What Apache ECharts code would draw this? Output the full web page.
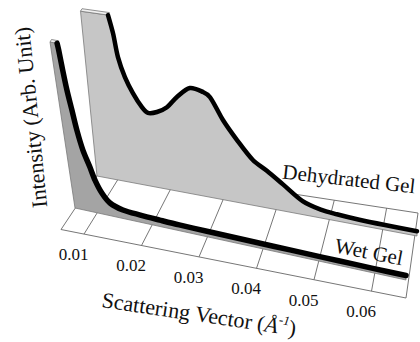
<!DOCTYPE html>
<html>
<head>
<meta charset="utf-8">
<script src="https://cdn.jsdelivr.net/npm/echarts@6/dist/echarts.min.js"></script>
<style>
  html, body { margin: 0; padding: 0; background: #fff; }
  #chart { width: 420px; height: 342px; }
</style>
</head>
<body>
<div id="chart"></div>
<script>
// scattering vector (1/A) and intensity (arb. unit)
const wetQ = [0.0060, 0.0072, 0.0073, 0.00745, 0.00772, 0.00808, 0.00845, 0.00902, 0.00986, 0.01046, 0.0114, 0.01266, 0.01488, 0.0180, 0.0215, 0.0250, 0.0300, 0.0360, 0.0420, 0.0480, 0.0540, 0.0600, 0.0660];
const wetI = [100, 100, 96, 86, 72, 60.5, 48.6, 37, 27.4, 20, 12.9, 7.8, 5.2, 4.4, 3.9, 3.5, 3.3, 3.1, 2.95, 2.8, 2.7, 2.6, 2.6];

const dryQ = [0.0060, 0.0109, 0.01151, 0.01202, 0.01297, 0.01419, 0.01564, 0.01668, 0.01836, 0.02028, 0.02226, 0.02476, 0.02712, 0.02835, 0.03048, 0.03288, 0.03564, 0.03816, 0.04107, 0.04464, 0.0480, 0.0510, 0.0552, 0.0600, 0.0660];
const dryI = [103, 103, 92, 77.5, 65.6, 56.4, 48.5, 45.5, 47, 51, 58.4, 65.2, 64, 61.5, 48.8, 38, 27.5, 22.5, 16, 8.1, 5, 4, 3.2, 2.9, 2.8];

const tickQ = [0.01, 0.02, 0.03, 0.04, 0.05, 0.06];
const tickLabels = ['0.01', '0.02', '0.03', '0.04', '0.05', '0.06'];

const Q_MIN = 0.006, Q_MAX = 0.066, I_MAX = 110;
const SERIF = 'Liberation Serif';

// oblique box: base line of each depth row (L at Q_MIN, R at Q_MAX) and
// the screen vector of one intensity unit at each end
const front = { L: [61, 229.5], R: [406, 298] };
const back  = { L: [104, 165],  R: [418, 213] };
const wetRow = { L: [75, 208], R: [406, 280], VL: [-0.25, -1.66], VR: [0, -1.72] };
const dryRow = { L: [97, 176], R: [417, 236], VL: [-0.16, -1.6],  VR: [0, -1.72] };

function lerp(a, b, t) { return a + (b - a) * t; }

function proj(row, t, h) {
  let x = lerp(row.L[0], row.R[0], t), y = lerp(row.L[1], row.R[1], t);
  if (h) {
    x += h * lerp(row.VL[0], row.VR[0], t);
    y += h * lerp(row.VL[1], row.VR[1], t);
  }
  return [x, y];
}

// use the cartesian scales, then bend the result into the oblique box
function toTH(api, cs, q, v) {
  const p = api.coord([q, v]);
  return [(p[0] - cs.x) / cs.width, (cs.y + cs.height - p[1]) / cs.height * I_MAX];
}

function txt(size, italic) {
  return { fontFamily: SERIF, fontSize: size, fontStyle: italic ? 'italic' : 'normal', fill: '#111' };
}

function floorItem(params, api) {
  const cs = params.coordSys;
  const a = toTH(api, cs, Q_MIN, 0), b = toTH(api, cs, Q_MAX, 0);
  return {
    type: 'polygon',
    shape: { points: [proj(front, a[0]), proj(front, b[0]), proj(back, b[0]), proj(back, a[0])] },
    style: { fill: '#fff', stroke: '#666', lineWidth: 0.9 }
  };
}

function tickItem(params, api) {
  const cs = params.coordSys;
  const t = toTH(api, cs, api.value(0), 0)[0];
  const f = proj(front, t), b = proj(back, t);
  return {
    type: 'group',
    children: [
      { type: 'line', shape: { x1: f[0], y1: f[1], x2: b[0], y2: b[1] },
        style: { stroke: '#666', lineWidth: 0.9 } },
      { type: 'text', x: f[0] - 10.5, y: f[1] + 20.5,
        style: Object.assign(txt(17), { text: tickLabels[params.dataIndex], align: 'center', verticalAlign: 'middle' }) }
    ]
  };
}

function panel(row, qs, vals, fill, lw) {
  return function (params, api) {
    if (params.dataIndex !== 0) return null;
    const cs = params.coordSys;
    const th = qs.map((q, i) => toTH(api, cs, q, vals[i]));
    const pts = th.map(d => proj(row, d[0], d[1]));
    const b0 = proj(row, th[0][0], 0), b1 = proj(row, th[th.length - 1][0], 0);
    const p0 = pts[0], p1 = pts[1];
    return {
      type: 'group',
      children: [
        { type: 'polygon', shape: { points: [b0].concat(pts, [b1]) },
          style: { fill: fill, stroke: '#7a7a7a', lineWidth: 0.8 } },
        { type: 'polygon', shape: { points: [p0, p1, [p1[0] + 1.5, p1[1] - 2.5], [p0[0] + 1.5, p0[1] - 2.5]] },
          style: { fill: '#f0f0f0', stroke: '#777', lineWidth: 0.8 } },
        { type: 'polyline', shape: { points: pts.slice(1), smooth: 0.3 },
          style: { fill: null, stroke: '#000', lineWidth: lw, lineJoin: 'round', lineCap: 'round' } }
      ]
    };
  };
}

const chart = echarts.init(document.getElementById('chart'), null, { renderer: 'svg' });
chart.setOption({
  animation: false,
  grid: { left: 0, right: 0, top: 0, bottom: 0 },
  xAxis: { type: 'value', min: Q_MIN, max: Q_MAX, show: false },
  yAxis: { type: 'value', min: 0, max: I_MAX, show: false },
  series: [
    { type: 'custom', name: 'floor', data: [[Q_MIN, 0]], renderItem: floorItem, silent: true },
    { type: 'custom', name: 'ticks', data: tickQ.map(q => [q, 0]), renderItem: tickItem, silent: true },
    { type: 'custom', name: 'Dehydrated Gel', data: dryQ.map((q, i) => [q, dryI[i]]),
      renderItem: panel(dryRow, dryQ, dryI, '#c6c6c6', 4.5), silent: true },
    { type: 'custom', name: 'Wet Gel', data: wetQ.map((q, i) => [q, wetI[i]]),
      renderItem: panel(wetRow, wetQ, wetI, '#a4a4a4', 5.5), silent: true }
  ],
  graphic: [
    { type: 'text', z: 100, x: 30.7, y: 117.5, rotation: 1.670,
      style: Object.assign(txt(22), { text: 'Intensity (Arb. Unit)', align: 'center', verticalAlign: 'middle' }) },
    { type: 'text', z: 100, x: 199, y: 314, rotation: -0.148,
      style: { text: '{n|Scattering Vector (}{i|Å}{s|-1}{n|)}', align: 'center', verticalAlign: 'middle',
               rich: {
                 n: Object.assign(txt(22), { lineHeight: 26 }),
                 i: Object.assign(txt(22, true), { lineHeight: 26 }),
                 s: Object.assign(txt(13, true), { lineHeight: 26, verticalAlign: 'top' })
               } } },
    { type: 'text', z: 100, x: 349, y: 179, rotation: -0.112,
      style: Object.assign(txt(21), { text: 'Dehydrated Gel', align: 'center', verticalAlign: 'middle' }) },
    { type: 'text', z: 100, x: 369, y: 252, rotation: -0.19,
      style: Object.assign(txt(21), { text: 'Wet Gel', align: 'center', verticalAlign: 'middle' }) }
  ]
});
</script>
</body>
</html>
